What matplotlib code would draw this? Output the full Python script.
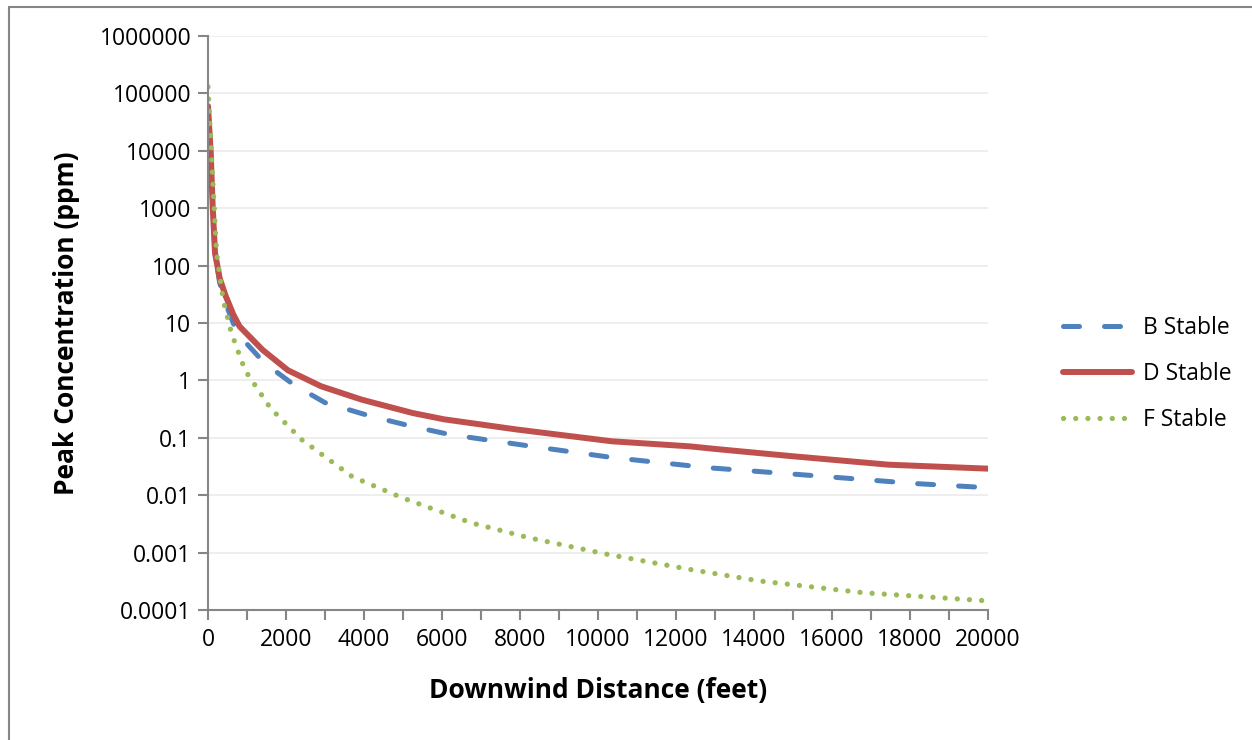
import matplotlib.pyplot as plt
from matplotlib.patches import Rectangle
from matplotlib.ticker import FixedLocator, NullLocator

plt.rcParams['font.family'] = ['Open Sans', 'DejaVu Sans']

# downwind distance (feet) and peak concentration (ppm)
dist_b = [0, 70, 120, 180, 300, 450, 750, 1450, 2200, 3000, 4150, 5200, 6200,
          8300, 10400, 12850, 15500, 18100, 20000]
conc_b = [60000, 9000, 1070, 165, 50, 22, 6.6, 2.0, 0.84, 0.41, 0.24, 0.16,
          0.114, 0.071, 0.045, 0.030, 0.022, 0.016, 0.0135]

dist_d = [0, 70, 120, 180, 300, 450, 650, 810, 1400, 2050, 2900, 3950, 5250,
          6050, 7900, 10350, 12350, 13000, 14950, 17450, 20000]
conc_d = [60000, 9000, 1070, 165, 60, 30, 14, 8.7, 3.4, 1.5, 0.79, 0.46, 0.27,
          0.21, 0.14, 0.087, 0.071, 0.064, 0.048, 0.034, 0.029]

dist_f = [0, 220, 390, 600, 950, 1600, 2400, 3700, 5000, 6750, 8250, 10250,
          12350, 14150, 16800, 20000]
conc_f = [130000, 165, 25, 6.7, 1.5, 0.33, 0.093, 0.021, 0.0089, 0.0033,
          0.0018, 0.00093, 0.00051, 0.00032, 0.00020, 0.000144]

y_ticks = [1e-4, 1e-3, 1e-2, 1e-1, 1, 10, 100, 1000, 10000, 100000, 1000000]
y_labels = ['0.0001', '0.001', '0.01', '0.1', '1', '10', '100', '1000',
            '10000', '100000', '1000000']

fig = plt.figure(figsize=(12.52, 7.40), dpi=100)
ax = fig.add_axes([208 / 1252, 1 - 610 / 740, 780 / 1252, 574 / 740])

ax.plot(dist_b, conc_b, color='#4F81BD', lw=3.6, dashes=(3.2, 5.0),
        dash_capstyle='round', label='B Stable')
ax.plot(dist_d, conc_d, color='#C0504D', lw=4.3, solid_capstyle='round',
        label='D Stable')
ax.plot(dist_f, conc_f, color='#9BBB59', lw=3.8, dashes=(0.01, 2.3),
        dash_capstyle='round', label='F Stable')

ax.set_yscale('log')
ax.set_ylim(1e-4, 1e6)
ax.set_xlim(0, 20000)
ax.yaxis.set_major_locator(FixedLocator(y_ticks))
ax.yaxis.set_minor_locator(NullLocator())
ax.set_yticklabels(y_labels)
x_ticks = list(range(0, 20001, 1000))
ax.set_xticks(x_ticks)
ax.set_xticklabels([str(t) if t % 2000 == 0 else '' for t in x_ticks])

ax.grid(axis='y', color='#EBEBEB', lw=1.2)
ax.set_axisbelow(True)
for s in ['top', 'right']:
    ax.spines[s].set_visible(False)
for s in ['left', 'bottom']:
    ax.spines[s].set_color('#868686')
    ax.spines[s].set_linewidth(1.5)
ax.tick_params(axis='both', colors='#868686', width=1.5, length=7,
               labelcolor='black', labelsize=16.5)
ax.tick_params(axis='x', pad=6)
ax.tick_params(axis='y', pad=5)

ax.set_xlabel('Downwind Distance (feet)', fontsize=19, fontweight='bold',
              labelpad=18)
ax.set_ylabel('Peak Concentration (ppm)', fontsize=19, fontweight='bold',
              labelpad=14)

ax.legend(loc='center left', bbox_to_anchor=(1.07, 0.411), frameon=False,
          fontsize=16.5, handlelength=3.0, labelspacing=0.95,
          handletextpad=0.5)

fig.patches.append(Rectangle((9 / 1252, -0.1), 1.2, 1 - 7 / 740 + 0.1,
                             transform=fig.transFigure, fill=False,
                             edgecolor='#868686', lw=1.5))

fig.savefig('out.png', dpi=100)
